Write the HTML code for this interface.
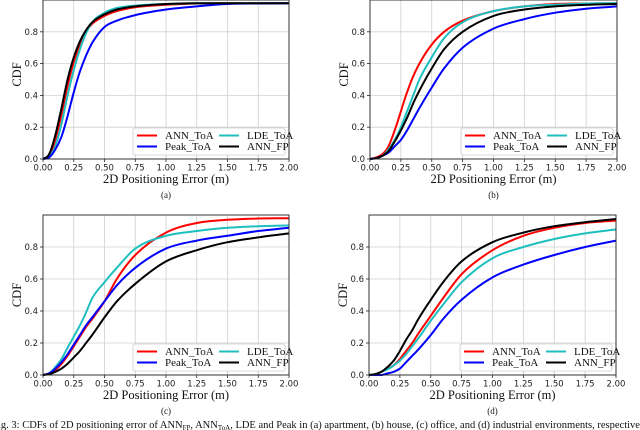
<!DOCTYPE html>
<html><head><meta charset="utf-8"><style>
html,body{margin:0;padding:0;background:#fff;width:640px;height:430px;overflow:hidden}
svg{display:block}
.tk{font-family:"DejaVu Sans","Liberation Sans",sans-serif;font-size:8.5px;fill:#222}
.lab{font-family:"Liberation Serif",serif;font-size:12.5px;fill:#111}
.lg{font-family:"Liberation Serif",serif;font-size:11px;fill:#111}
</style></head><body>
<svg id="fig" width="640" height="430" viewBox="0 0 640 430" xmlns="http://www.w3.org/2000/svg">
<text x="-2" y="428" font-family="Liberation Serif, serif" font-size="10.5" fill="#111">ig. 3: CDFs of 2D positioning error of ANN<tspan font-size="7" dy="2">FP</tspan><tspan dy="-2">, ANN</tspan><tspan font-size="7" dy="2">ToA</tspan><tspan dy="-2">, LDE and Peak in (a) apartment, (b) house, (c) office, and (d) industrial environments, respectively.</tspan></text>
</svg>
<script>
const xGrid=[0,0.05,0.1,0.15,0.2,0.25,0.3,0.35,0.4,0.5,0.6,0.75,1.0,1.25,1.5,1.75,2.0];
const xTicks=[0,0.25,0.5,0.75,1.0,1.25,1.5,1.75,2.0];
const xTickLabels=["0.00","0.25","0.50","0.75","1.00","1.25","1.50","1.75","2.00"];
const yTicks=[0,0.2,0.4,0.6,0.8];
const yTickLabels=["0.0","0.2","0.4","0.6","0.8"];
const seriesNames=["ANN_ToA","LDE_ToA","Peak_ToA","ANN_FP"];
// panel (a)
const aRed  =[0,0.02,0.12,0.28,0.46,0.61,0.72,0.80,0.85,0.90,0.93,0.955,0.97,0.978,0.98,0.98,0.98];
const aCyan =[0,0.015,0.08,0.22,0.40,0.56,0.69,0.79,0.86,0.92,0.95,0.965,0.975,0.98,0.98,0.98,0.98];
const aBlue =[0,0.01,0.06,0.14,0.27,0.42,0.55,0.65,0.73,0.83,0.87,0.905,0.94,0.96,0.975,0.978,0.98];
const aBlack=[0,0.03,0.15,0.32,0.50,0.64,0.74,0.81,0.86,0.91,0.94,0.96,0.975,0.98,0.98,0.98,0.98];
// panel (b)
const bRed  =[0,0.01,0.03,0.08,0.18,0.30,0.42,0.52,0.60,0.72,0.80,0.87,0.93,0.96,0.975,0.978,0.98];
const bCyan =[0,0.005,0.02,0.06,0.12,0.20,0.30,0.40,0.50,0.64,0.76,0.86,0.93,0.96,0.97,0.978,0.98];
const bBlue =[0,0.005,0.02,0.04,0.08,0.12,0.18,0.25,0.32,0.45,0.57,0.70,0.82,0.88,0.92,0.945,0.96];
const bBlack=[0,0.005,0.02,0.05,0.11,0.18,0.26,0.35,0.43,0.57,0.69,0.80,0.90,0.94,0.96,0.97,0.975];
// panel (c)
const cRed  =[0,0.01,0.03,0.07,0.12,0.18,0.24,0.30,0.35,0.46,0.60,0.75,0.89,0.95,0.97,0.978,0.98];
const cCyan =[0,0.01,0.05,0.10,0.17,0.24,0.31,0.39,0.48,0.58,0.67,0.79,0.87,0.90,0.92,0.93,0.935];
const cBlue =[0,0.01,0.04,0.08,0.13,0.19,0.25,0.31,0.36,0.46,0.56,0.67,0.79,0.84,0.87,0.90,0.92];
const cBlack=[0,0.005,0.02,0.04,0.07,0.11,0.15,0.20,0.25,0.36,0.46,0.57,0.71,0.78,0.83,0.86,0.885];
// panel (d)
const dRed  =[0,0.005,0.02,0.04,0.06,0.10,0.15,0.20,0.26,0.37,0.48,0.63,0.78,0.87,0.92,0.95,0.965];
const dCyan =[0,0.005,0.02,0.035,0.06,0.09,0.13,0.18,0.23,0.34,0.44,0.58,0.73,0.80,0.85,0.885,0.91];
const dBlue =[0,0,0,0.01,0.02,0.04,0.08,0.12,0.16,0.25,0.35,0.47,0.61,0.69,0.75,0.80,0.84];
const dBlack=[0,0.005,0.02,0.05,0.09,0.15,0.22,0.28,0.35,0.47,0.58,0.71,0.83,0.89,0.93,0.955,0.975];

const NS="http://www.w3.org/2000/svg";
const fig=document.getElementById('fig');
function mk(tag,attrs,parent){const e=document.createElementNS(NS,tag);for(const k in attrs)e.setAttribute(k,attrs[k]);(parent||fig).appendChild(e);return e;}
const colors={ANN_ToA:"#ff0000",LDE_ToA:"#1fbfbf",Peak_ToA:"#0000ff",ANN_FP:"#000000"};

function smoothPath(P){
  const n=P.length, d=[], m=[];
  for(let i=0;i<n-1;i++) d.push((P[i+1][1]-P[i][1])/(P[i+1][0]-P[i][0]));
  m[0]=d[0]; m[n-1]=d[n-2];
  for(let i=1;i<n-1;i++){ m[i]=(d[i-1]*d[i]<=0)?0:(d[i-1]+d[i])/2; }
  for(let i=0;i<n-1;i++){
    if(d[i]===0){m[i]=0;m[i+1]=0;continue;}
    const a=m[i]/d[i], b=m[i+1]/d[i], s=a*a+b*b;
    if(s>9){const t=3/Math.sqrt(s);m[i]=t*a*d[i];m[i+1]=t*b*d[i];}
  }
  let s='M'+P[0][0].toFixed(1)+','+P[0][1].toFixed(1);
  for(let i=0;i<n-1;i++){
    const h=(P[i+1][0]-P[i][0])/3;
    s+=' C'+(P[i][0]+h).toFixed(1)+','+(P[i][1]+m[i]*h).toFixed(1)+' '+(P[i+1][0]-h).toFixed(1)+','+(P[i+1][1]-m[i+1]*h).toFixed(1)+' '+P[i+1][0].toFixed(1)+','+P[i+1][1].toFixed(1);
  }
  return s;
}

function panel(id,left,right,top,bottom,data,tag){
  const g=mk('g',{});
  
  
  const xs=v=>left+(v/2)*(right-left);
  const ys=v=>bottom-v*(bottom-top);
  xTicks.forEach((t,i)=>{
    const l=mk('line',{x1:xs(t),x2:xs(t),y1:top,y2:bottom,stroke:'#d0d0d0','stroke-width':0.8},g);
    
    
    mk('line',{x1:xs(t),x2:xs(t),y1:bottom,y2:bottom+3,stroke:'#222','stroke-width':0.8},g);
    const tx=mk('text',{x:xs(t),y:bottom+11.5,'text-anchor':'middle',class:'tk'},g);
    tx.textContent=xTickLabels[i];
    
    
  });
  yTicks.forEach((t,i)=>{
    const l=mk('line',{x1:left,x2:right,y1:ys(t),y2:ys(t),stroke:'#d0d0d0','stroke-width':0.8},g);
    
    
    mk('line',{x1:left-3,x2:left,y1:ys(t),y2:ys(t),stroke:'#222','stroke-width':0.8},g);
    const tx=mk('text',{x:left-5,y:ys(t)+3,'text-anchor':'end',class:'tk'},g);
    tx.textContent=yTickLabels[i];
    
    
  });
  seriesNames.forEach((n,si)=>{
    const vals=data[si];
    const P=xGrid.map((x,i)=>[xs(x),ys(vals[i])]);
    const p=mk('path',{d:smoothPath(P),fill:'none',stroke:colors[n],'stroke-width':2,'stroke-linejoin':'round'},g);
    
    
  });
  const fr=mk('rect',{x:left,y:top,width:right-left,height:bottom-top,fill:'none',stroke:'#222','stroke-width':0.9},g);
  
  
  const xl=mk('text',{x:(left+right)/2,y:bottom+24,'text-anchor':'middle',class:'lab'},g);
  xl.textContent='2D Positioning Error (m)';
  
  
  const cy=(top+bottom)/2+(top<5?-5:0);
  const yl=mk('text',{x:0,y:0,'text-anchor':'middle',class:'lab',transform:`translate(${left-22},${cy}) rotate(-90)`},g);
  yl.textContent='CDF';
  
  
  const st=mk('text',{x:(left+right)/2,y:bottom+39,'text-anchor':'middle','font-family':'Liberation Serif, serif','font-size':'9',fill:'#111'},g);
  st.textContent=tag;
  
  
  const lx=right-156, ly=bottom-31;
  const lb=mk('rect',{x:lx,y:ly,width:152,height:27,fill:'#fff','fill-opacity':0.85,stroke:'#ccc','stroke-width':0.8,rx:2},g);
  
  
  const order=[["ANN_ToA",0,0],["LDE_ToA",1,0],["Peak_ToA",0,1],["ANN_FP",1,1]];
  order.forEach(([n,c,r])=>{
    const ex=lx+4+c*82, ey=ly+7.5+r*11;
    const ln=mk('line',{x1:ex,x2:ex+20,y1:ey,y2:ey,stroke:colors[n],'stroke-width':2},g);
    
    
    const tx=mk('text',{x:ex+28,y:ey+3.5,class:'lg'},g);
    tx.textContent=n;
    
    
  });
}
panel('a',43,289,0,159,[aRed,aCyan,aBlue,aBlack],'(a)');
panel('b',370,617,0,159,[bRed,bCyan,bBlue,bBlack],'(b)');
panel('c',43,289,215,375,[cRed,cCyan,cBlue,cBlack],'(c)');
panel('d',369,616,215,375,[dRed,dCyan,dBlue,dBlack],'(d)');
</script>
</body></html>
